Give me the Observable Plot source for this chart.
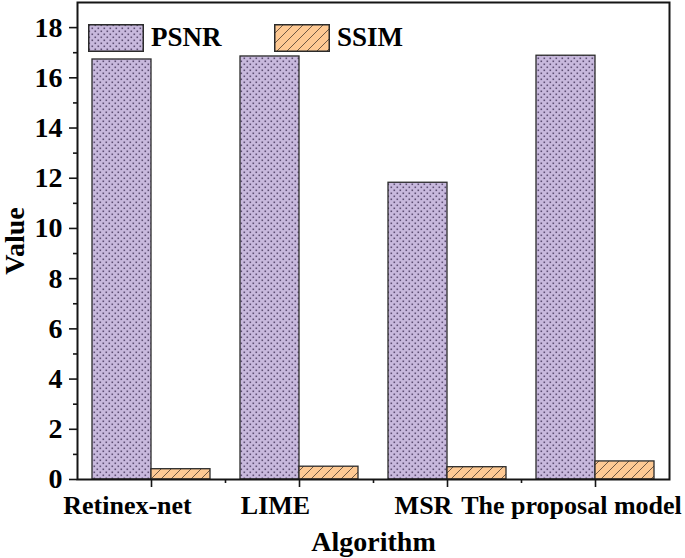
<!DOCTYPE html>
<html><head><meta charset="utf-8">
<script src="https://cdn.jsdelivr.net/npm/d3@7"></script>
<script src="https://cdn.jsdelivr.net/npm/@observablehq/plot@0.6"></script>
<style>
body{margin:0;background:#fff;}
#chart{position:relative;width:685px;height:558px;}
#chart svg text{font-family:"Liberation Serif","Times New Roman",serif;font-weight:bold;}
.leg{position:absolute;display:flex;align-items:center;font-family:"Liberation Serif","Times New Roman",serif;font-weight:bold;font-size:27px;color:#000;}
.leg svg{display:block;margin-right:7px;}
</style></head><body><div id="chart"></div>
<script>
const algorithms = ["Retinex-net", "LIME", "MSR", "The proposal model"];
const psnrValues = [16.73, 16.85, 11.82, 16.88];
const ssimValues = [0.41, 0.51, 0.49, 0.72];
const seriesNames = ["PSNR", "SSIM"];
const yMajorTicks = [0, 2, 4, 6, 8, 10, 12, 14, 16, 18];
const yMinorTicks = [1, 3, 5, 7, 9, 11, 13, 15, 17];
const yMax = 19;

const psnrData = algorithms.map((a, i) => ({algorithm: a, value: psnrValues[i]}));
const ssimData = algorithms.map((a, i) => ({algorithm: a, value: ssimValues[i]}));

const NS = "http://www.w3.org/2000/svg";
function patternDefs(prefix) {
  const defs = document.createElementNS(NS, "defs");
  defs.innerHTML = `
    <pattern id="${prefix}dots" patternUnits="userSpaceOnUse" width="6" height="6">
      <rect width="6" height="6" fill="#c8b9dd"/>
      <rect x="0.5" y="0.5" width="1.6" height="1.6" fill="#5e4f74"/>
      <rect x="3.5" y="3.5" width="1.6" height="1.6" fill="#5e4f74"/>
    </pattern>
    <pattern id="${prefix}hatch" patternUnits="userSpaceOnUse" width="10" height="10">
      <rect width="10" height="10" fill="#fec993"/>
      <path d="M0,10 L10,0 M-2,2 L2,-2 M8,12 L12,8" stroke="#6f5843" stroke-width="1"/>
    </pattern>`;
  return defs;
}

const chart = Plot.plot({
  width: 685,
  height: 558,
  marginLeft: 77,
  marginRight: 16,
  marginTop: 2,
  marginBottom: 79,
  style: {background: "#fff", color: "#000", fontSize: "26px", overflow: "visible"},
  x: {type: "band", domain: algorithms, padding: 0, label: null, axis: null},
  y: {domain: [0, yMax], label: null, axis: null},
  marks: [
    () => patternDefs("p-"),
    Plot.barY(psnrData, {x: "algorithm", y: "value", fill: "url(#p-dots)", stroke: "#2b2b2b", strokeWidth: 1.3, insetLeft: 15, insetRight: 74}),
    Plot.barY(ssimData, {x: "algorithm", y: "value", fill: "url(#p-hatch)", stroke: "#2b2b2b", strokeWidth: 1.3, insetLeft: 74, insetRight: 15}),
    Plot.frame({stroke: "#151515", strokeWidth: 2}),
    Plot.axisY(yMajorTicks, {tickSize: 8, tickPadding: 7, fontSize: 28, stroke: "#151515", strokeWidth: 1.6, label: null}),
    Plot.axisY(yMinorTicks, {tickSize: 4, tickFormat: () => "", stroke: "#151515", strokeWidth: 1.6, label: null}),
    Plot.axisX({tickSize: 8, tickFormat: () => "", stroke: "#151515", strokeWidth: 1.6, label: null}),
    Plot.axisX(algorithms.slice(0, 3), {tickSize: 4, dx: 74, tickFormat: () => "", stroke: "#151515", strokeWidth: 1.6, label: null}),
    Plot.axisX({tickSize: 0, tickPadding: 16.5, dx: -24, fontSize: 26, label: null}),
    Plot.text(["Value"], {text: d => d, frameAnchor: "left", textAnchor: "middle", rotate: -90, dx: -62, fontSize: 28, fontWeight: "bold", fill: "#000"}),
    Plot.text(["Algorithm"], {text: d => d, frameAnchor: "bottom", dy: 71, fontSize: 28, fontWeight: "bold", fill: "#000"})
  ]
});
const root = document.getElementById("chart");
root.appendChild(chart);

// legend (inside the plot frame, top-left)
const legendPos = [{left: 88, top: 22}, {left: 274, top: 22}];
const legendFills = ["dots", "hatch"];
seriesNames.forEach((name, i) => {
  const item = document.createElement("div");
  item.className = "leg";
  item.style.left = legendPos[i].left + "px";
  item.style.top = legendPos[i].top + "px";
  const sw = document.createElementNS(NS, "svg");
  sw.setAttribute("width", 56); sw.setAttribute("height", 28);
  sw.appendChild(patternDefs("l" + i + "-"));
  const r = document.createElementNS(NS, "rect");
  r.setAttribute("x", 0.75); r.setAttribute("y", 0.75);
  r.setAttribute("width", 54.5); r.setAttribute("height", 26.5);
  r.setAttribute("fill", `url(#l${i}-${legendFills[i]})`);
  r.setAttribute("stroke", "#2b2b2b"); r.setAttribute("stroke-width", 1.5);
  sw.appendChild(r);
  item.appendChild(sw);
  const t = document.createElement("span");
  t.textContent = name;
  item.appendChild(t);
  root.appendChild(item);
});
</script></body></html>
